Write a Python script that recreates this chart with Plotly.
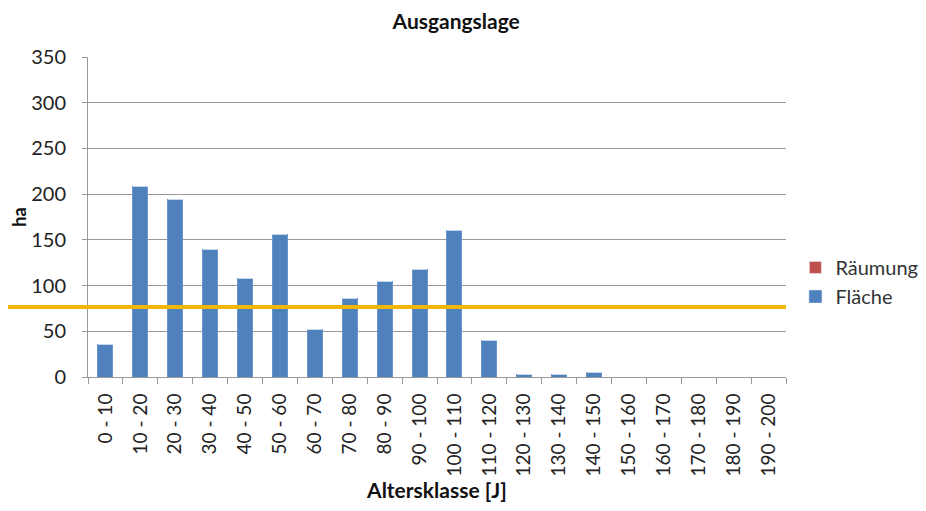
import plotly.graph_objects as go

# Altersklassen und Flächen (ha)
klassen = ["0 - 10", "10 - 20", "20 - 30", "30 - 40", "40 - 50", "50 - 60", "60 - 70",
           "70 - 80", "80 - 90", "90 - 100", "100 - 110", "110 - 120", "120 - 130",
           "130 - 140", "140 - 150", "150 - 160", "160 - 170", "170 - 180",
           "180 - 190", "190 - 200"]
flaeche = [36, 208, 194, 139, 108, 156, 52, 86, 105, 118, 160, 40, 3, 3, 5, 0, 0, 0, 0, 0]
raeumung = [0] * len(klassen)
schwelle = 76.5
y_ticks = [0, 50, 100, 150, 200, 250, 300, 350]

fnt = "Lato, Calibri, sans-serif"

fig = go.Figure()
fig.add_trace(go.Bar(x=klassen, y=flaeche, name="Fläche", marker_color="#4F81BD",
                     marker_line=dict(color="#6A95CC", width=1), legendgroup="f"))
fig.add_trace(go.Bar(x=klassen, y=raeumung, name="Räumung", marker_color="#C0504D",
                     legendgroup="r"))

# gelbe Linie, links über den Plotbereich hinaus
fig.add_shape(type="line", xref="paper", yref="y", x0=-0.126, x1=1.0,
              y0=schwelle, y1=schwelle, line=dict(color="#F2B705", width=4))

# die Seite hat 8px Rand, deshalb Ränder entsprechend verschoben
fig.update_layout(
    width=926, height=511,
    margin=dict(l=80, r=147, t=49, b=142),
    paper_bgcolor="white", plot_bgcolor="white",
    barmode="stack", bargap=0.57,
    font=dict(family=fnt, size=16, color="#222"),
    title=dict(text="<b>Ausgangslage</b>", x=0.484, xanchor="center",
               y=0.974, yanchor="middle", font=dict(size=21, color="#111")),
    legend=dict(x=1.012, y=0.297, xanchor="left", yanchor="middle",
                traceorder="reversed", font=dict(size=20, color="#333"),
                itemwidth=30, tracegroupgap=20),
    xaxis=dict(
        title=dict(text="<b>Altersklasse [J]</b>", font=dict(size=21, color="#111"), standoff=6),
        automargin=False,
        tickangle=-90, tickson="boundaries", ticks="outside", ticklen=6,
        tickcolor="#999", showline=True, linecolor="#999", linewidth=1,
        tickfont=dict(size=19, color="#222"), ticklabelstandoff=8,
    ),
    yaxis=dict(
        title=dict(text="<b>ha</b>", font=dict(size=18, color="#111"), standoff=6),
        automargin=False,
        range=[0, 350], tickvals=y_ticks, ticks="outside", ticklen=5, tickcolor="#999",
        showline=True, linecolor="#999", linewidth=1,
        showgrid=True, gridcolor="#999", gridwidth=1, zeroline=False,
        tickfont=dict(size=20, color="#222"), ticklabelstandoff=12,
    ),
)

fig.write_html("out.html")
